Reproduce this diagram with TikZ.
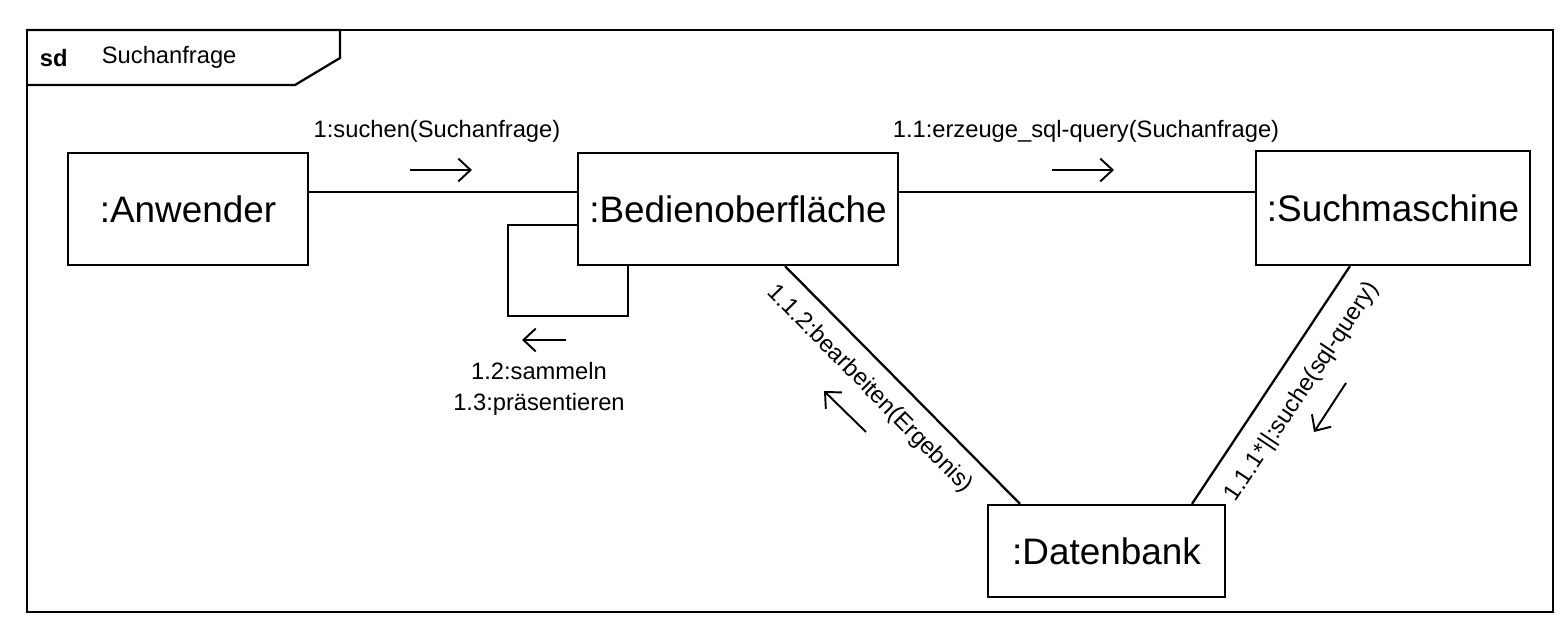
\documentclass[tikz,border=0pt]{standalone}
\usepackage{fontspec}
\setmainfont{Liberation Sans}
\usetikzlibrary{arrows.meta}
\begin{document}
\begin{tikzpicture}[x=0.02cm,y=-0.02cm,
  line width=1.3pt,
  obj/.style={draw, fill=white, font=\fontsize{21}{25}\selectfont, inner sep=0pt},
  lbl/.style={font=\fontsize{13.5}{16}\selectfont, inner sep=1pt},
  msg/.style={-{Straight Barb[length=7pt,width=13pt]}, line width=1.1pt}]
\useasboundingbox (0,0) rectangle (1566,644);
% frame
\draw (27,30) rectangle (1553,612);
\draw (27,30) -- (340,30) -- (340,58) -- (295,85) -- (27,85);
\node[anchor=west, lbl, font=\bfseries\fontsize{13.5}{16}\selectfont] (sd) at (37,58) {sd};
\node[anchor=west, lbl] (title) at (99,57) {Suchanfrage};
% objects
\node[obj, minimum width=4.8cm, minimum height=2.24cm] (anw) at (188,209) {:Anwender};
\node[obj, minimum width=6.4cm, minimum height=2.24cm] (bed) at (738,209) {:Bedienoberfläche};
\node[obj, minimum width=5.48cm, minimum height=2.28cm] (such) at (1393,208) {:Suchmaschine};
\node[obj, minimum width=4.74cm, minimum height=1.84cm] (dat) at (1106.5,551) {:Datenbank};
% links
\draw (anw.east |- 0,192) -- (bed.west |- 0,192);
\draw (bed.east |- 0,192) -- (such.west |- 0,192);
\draw (bed.west |- 0,225) -| (508,316) -| (bed.south -| 628,0);
\draw (bed.south -| 785,0) -- node[lbl, sloped, below=7pt, pos=0.44] {1.1.2:bearbeiten(Ergebnis)} (dat.north -| 1020,0);
\draw (dat.north -| 1192,0) -- node[lbl, sloped, below=9pt, pos=0.54] {1.1.1*||:suche(sql-query)} (such.south -| 1350,0);
% message labels
\node[lbl] (m1) at (437,131) {1:suchen(Suchanfrage)};
\node[lbl] (m11) at (1086,131) {1.1:erzeuge\_sql-query(Suchanfrage)};
\node[lbl, align=center] (m12) at (539,389) {1.2:sammeln\\[2pt]1.3:präsentieren};
% message arrows
\coordinate (a1s) at (410,170); \coordinate (a1e) at (472,170);
\coordinate (a2s) at (1052,170); \coordinate (a2e) at (1114,170);
\coordinate (a3s) at (566,340); \coordinate (a3e) at (522,340);
\coordinate (a4s) at (866,432); \coordinate (a4e) at (824,391);
\coordinate (a5s) at (1346,383); \coordinate (a5e) at (1314,432);
\draw[msg] (a1s) -- (a1e);
\draw[msg] (a2s) -- (a2e);
\draw[msg] (a3s) -- (a3e);
\draw[msg] (a4s) -- (a4e);
\draw[msg] (a5s) -- (a5e);
\end{tikzpicture}
\end{document}
